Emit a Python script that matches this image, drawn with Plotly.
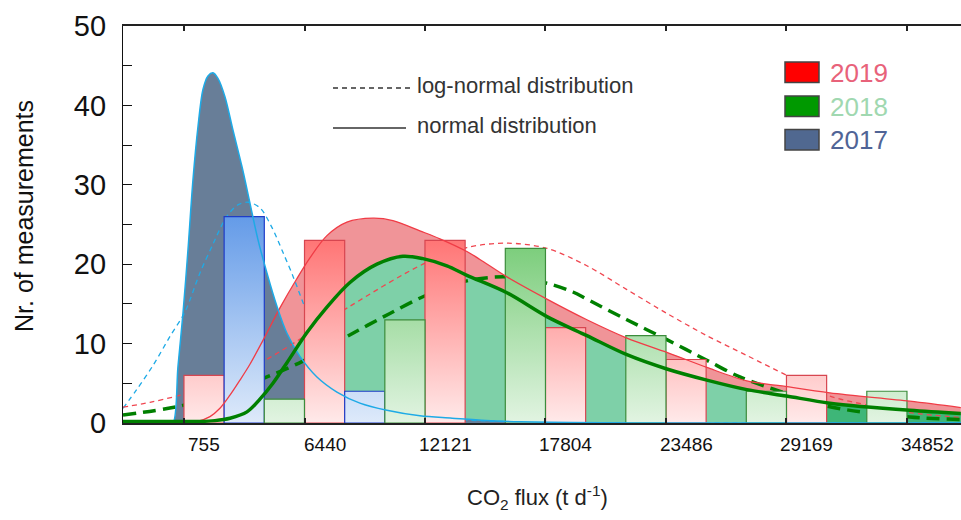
import plotly.graph_objects as go

# ---------------- data ----------------
TICKS = [755, 6440, 12121, 17804, 23486, 29169, 34852]
TICK_TEXT = ["755", "6440", "12121", "17804", "23486", "29169", "34852"]

# histogram counts per class (class starts at each tick)
COUNTS_2019 = [6, 23, 23, 12, 8, 6]
COUNTS_2017 = [26, 4, 0, 0, 0, 0]
COUNTS_2018 = [3, 13, 22, 11, 4, 4]

# fitted normal / log-normal curves (x: t d-1, y: nr. of measurements)
NORM17_X = [-2120, 0, 236, 472, 708, 944, 1179, 1415, 1651, 1887, 2122, 2358, 2688, 3065,
            3490, 3867, 4244, 4668, 5140, 5612, 6224, 7026, 7969, 9053, 10327, 11882,
            13400, 15000, 16600, 19000, 22000, 37400]
NORM17_Y = [0, 0, 0, 7.1, 13.8, 21.8, 30.6, 37.3, 42.0, 43.7, 44.1, 43.4, 41.1, 36.9,
            32.3, 27.7, 23.1, 18.9, 14.7, 11.3, 8.4, 5.8, 3.9, 2.5, 1.6, 0.9,
            0.6, 0.3, 0.15, 0.05, 0, 0]

LOGN17_X = [-2120, -1475, -693, 95, 802, 1509, 2136, 2768, 3315, 3787, 4338, 4890, 5437,
            5909, 6380, 7167, 8110, 8582, 9289, 10939, 13297, 15655, 18484, 22000, 37400]
LOGN17_Y = [1.85, 4.2, 7.3, 10.9, 14.0, 18.9, 22.6, 26.0, 27.5, 27.8, 27.1, 24.7, 21.4,
            18.4, 15.1, 9.8, 4.8, 3.4, 2.4, 1.3, 0.5, 0.2, 0.05, 0, 0]

NORM19_X = [-2120, 0, 1274, 1981, 2452, 2924, 3396, 3867, 4480, 5281, 6083, 6696, 7497,
            8440, 9666, 10609, 11882, 12825, 14098, 14711, 15985, 17871, 19757, 21643,
            23529, 25415, 27301, 28857, 31214, 34986, 37391]
NORM19_Y = [0, 0, 0.1, 0.8, 1.85, 3.5, 5.4, 7.4, 10.4, 14.5, 18.2, 20.8, 23.6,
            25.3, 25.8, 25.5, 24.2, 23.2, 21.6, 20.6, 18.4, 15.6, 13.0, 10.7,
            8.9, 7.0, 5.3, 4.7, 3.8, 2.75, 1.95]

LOGN19_X = [-2120, -848, 425, 2452, 4574, 5894, 8582, 12024, 14098, 15985, 17871, 19757,
            21643, 23529, 25415, 27301, 29187, 31214, 33100, 34986, 37391]
LOGN19_Y = [2.0, 2.6, 3.4, 5.0, 7.9, 10.0, 14.7, 20.0, 22.1, 22.65, 22.0, 19.8,
            16.8, 13.8, 11.0, 8.5, 6.0, 3.4, 2.2, 1.3, 0.7]

NORM18_X = [-2120, 1509, 2216, 2924, 3726, 4338, 4951, 5612, 6555, 7497, 8582, 9855,
            11081, 12024, 13155, 14098, 15985, 17871, 19757, 21643, 23529, 25415,
            27301, 29169, 31214, 34986, 37391]
NORM18_Y = [0.2, 0.2, 0.3, 0.6, 1.4, 3.0, 5.0, 7.6, 11.4, 14.6, 17.7, 20.0,
            21.0, 20.7, 19.8, 18.6, 16.4, 13.4, 11.0, 8.6, 6.8, 5.4,
            4.2, 3.4, 2.5, 1.6, 1.2]

LOGN18_X = [-2120, 425, 2452, 4668, 6366, 8723, 10468, 12024, 14098, 15985, 17871, 19097,
            19757, 21643, 23529, 25415, 26971, 28527, 31214, 34986, 37391]
LOGN18_Y = [1.0, 2.05, 3.5, 5.8, 7.8, 11.3, 13.8, 15.9, 17.9, 18.4, 17.6, 16.5,
            15.6, 13.0, 10.5, 7.9, 5.8, 4.3, 2.05, 0.75, 0.45]

TAIL_FROM = 29169   # upper tail of the 2018 normal area is shaded darker

YEARS = ["2019", "2018", "2017"]

# ---------------- styling ----------------
W, H = 961, 520
ML, MR, MT, MB = 123, 0, 26, 97
X_RANGE = [-2120, 37400]
Y_RANGE = [0, 50]
FONT = "Liberation Sans, Arial, Helvetica, sans-serif"
SMOOTH = 0.9

GROUP = (TICKS[-1] - TICKS[0]) / (len(TICKS) - 1)
SUB = GROUP / 3


def px_x(p):
    return (p - ML) / (W - ML - MR)


def px_y(p):
    return (H - MB - p) / (H - MT - MB)


def bar_outline(counts, slot):
    xs, ys = [], []
    for t, c in zip(TICKS, counts):
        if c <= 0:
            continue
        x0 = t + slot * SUB
        x1 = x0 + SUB
        xs += [x0, x0, x1, x1, x0, None]
        ys += [0, c, c, 0, 0, None]
    return xs, ys


def curve(x, y, **line):
    return go.Scatter(x=x, y=y, mode="lines", hoverinfo="skip",
                      line=dict(shape="spline", smoothing=SMOOTH, **line))


def area(x, y, color):
    return go.Scatter(x=x, y=y, mode="lines", hoverinfo="skip", fill="tozeroy", fillcolor=color,
                      line=dict(width=0, shape="spline", smoothing=SMOOTH))


fig = go.Figure()

# filled areas under the normal fits
fig.add_trace(area(NORM19_X, NORM19_Y, "rgb(240,148,152)"))
fig.add_trace(area(NORM18_X, NORM18_Y, "rgb(126,208,168)"))
tail = [(x, y) for x, y in zip(NORM18_X, NORM18_Y) if x >= TAIL_FROM]
fig.add_trace(area([p[0] for p in tail], [p[1] for p in tail], "rgb(62,182,120)"))
fig.add_trace(area(NORM17_X, NORM17_Y, "rgb(104,126,152)"))

# log-normal fits (dashed)
fig.add_trace(curve(LOGN17_X, LOGN17_Y, color="rgb(30,170,230)", width=1.3, dash="5px,4px"))
fig.add_trace(curve(LOGN19_X, LOGN19_Y, color="rgb(240,70,80)", width=1.3, dash="5px,4px"))
fig.add_trace(curve(LOGN18_X, LOGN18_Y, color="rgb(0,128,0)", width=3.5, dash="13px,7px"))

# histogram bars with vertical colour gradient
bar_specs = [
    (COUNTS_2019, 0, "rgb(215,70,80)", [[0, "rgb(255,234,234)"], [1, "rgb(255,112,112)"]], 24),
    (COUNTS_2017, 1, "rgb(30,60,200)", [[0, "rgb(222,234,250)"], [1, "rgb(100,155,232)"]], 26),
    (COUNTS_2018, 2, "rgb(60,140,60)", [[0, "rgb(226,244,226)"], [1, "rgb(120,204,120)"]], 23),
]
for counts, slot, edge, scale, top in bar_specs:
    bx, by = bar_outline(counts, slot)
    fig.add_trace(go.Scatter(x=bx, y=by, mode="lines", fill="toself",
                             line=dict(color=edge, width=1.2),
                             fillgradient=dict(type="vertical", colorscale=scale, start=0, stop=top),
                             hoverinfo="skip"))

# normal fits (solid)
fig.add_trace(curve(NORM19_X, NORM19_Y, color="rgb(240,60,70)", width=1.3))
fig.add_trace(curve(NORM17_X, NORM17_Y, color="rgb(30,170,230)", width=1.5))
fig.add_trace(curve(NORM18_X, NORM18_Y, color="rgb(0,128,0)", width=3.5))

shapes = []
annotations = []

# class labels sit under the first bar of each class
for t, lab in zip(TICKS, TICK_TEXT):
    annotations.append(dict(xref="x", yref="paper", x=t + SUB / 2, y=px_y(444),
                            xanchor="center", yanchor="middle", showarrow=False, text=lab,
                            font=dict(family=FONT, size=19, color="#111")))

# line-style key
shapes.append(dict(type="line", xref="paper", yref="paper", x0=px_x(333), x1=px_x(411),
                   y0=px_y(88), y1=px_y(88), line=dict(color="#333", width=1.3, dash="5px,4px")))
shapes.append(dict(type="line", xref="paper", yref="paper", x0=px_x(333), x1=px_x(406),
                   y0=px_y(128), y1=px_y(128), line=dict(color="#333", width=1.3)))
annotations.append(dict(xref="paper", yref="paper", x=px_x(415), y=px_y(85), xanchor="left",
                        yanchor="middle", showarrow=False, text="log-normal distribution",
                        font=dict(family=FONT, size=22, color="#333")))
annotations.append(dict(xref="paper", yref="paper", x=px_x(415), y=px_y(125), xanchor="left",
                        yanchor="middle", showarrow=False, text="normal distribution",
                        font=dict(family=FONT, size=22, color="#333")))

# year key
key_fill = ["rgb(255,0,0)", "rgb(0,153,0)", "rgb(80,104,144)"]
key_text = ["rgb(232,98,122)", "rgb(160,216,176)", "rgb(80,100,150)"]
key_top = [62, 96, 129.5]
for yr, fc, tc, top in zip(YEARS, key_fill, key_text, key_top):
    shapes.append(dict(type="rect", xref="paper", yref="paper", x0=px_x(785), x1=px_x(819),
                       y0=px_y(top + 20.5), y1=px_y(top), fillcolor=fc,
                       line=dict(color="#444", width=1.5)))
    annotations.append(dict(xref="paper", yref="paper", x=px_x(828), y=px_y(top + 10.5),
                            xanchor="left", yanchor="middle", showarrow=False, text=yr,
                            font=dict(family=FONT, size=26, color=tc)))

# axis titles
annotations.append(dict(xref="paper", yref="paper", x=px_x(24), y=px_y(216), textangle=-90,
                        xanchor="center", yanchor="middle", showarrow=False,
                        text="Nr. of measurements", font=dict(family=FONT, size=25, color="#111")))
annotations.append(dict(xref="paper", yref="paper", x=px_x(537), y=px_y(497),
                        xanchor="center", yanchor="middle", showarrow=False,
                        text="CO<sub>2</sub> flux (t d<sup>-1</sup>)",
                        font=dict(family=FONT, size=22, color="#222")))

fig.update_layout(
    width=W, height=H,
    margin=dict(l=ML, r=MR, t=MT, b=MB, pad=0),
    paper_bgcolor="white", plot_bgcolor="white",
    showlegend=False,
    shapes=shapes, annotations=annotations,
    xaxis=dict(range=X_RANGE, tickvals=TICKS, showticklabels=False, showgrid=False, zeroline=False,
               showline=True, linecolor="#222", linewidth=1.5, mirror="ticks",
               ticks="inside", ticklen=5, tickwidth=1.5, tickcolor="#222", automargin=False),
    yaxis=dict(range=Y_RANGE, tickvals=list(range(0, 51, 10)), showgrid=False, zeroline=False,
               showline=True, linecolor="#111", linewidth=1.2, mirror=False,
               ticks="inside", ticklen=9, tickwidth=1, tickcolor="#111",
               minor=dict(ticks="inside", dtick=5, ticklen=9, tickwidth=1, tickcolor="#111"),
               ticklabelstandoff=10, automargin=False,
               tickfont=dict(family=FONT, size=29, color="#111")),
)

fig.write_html("out.html")
